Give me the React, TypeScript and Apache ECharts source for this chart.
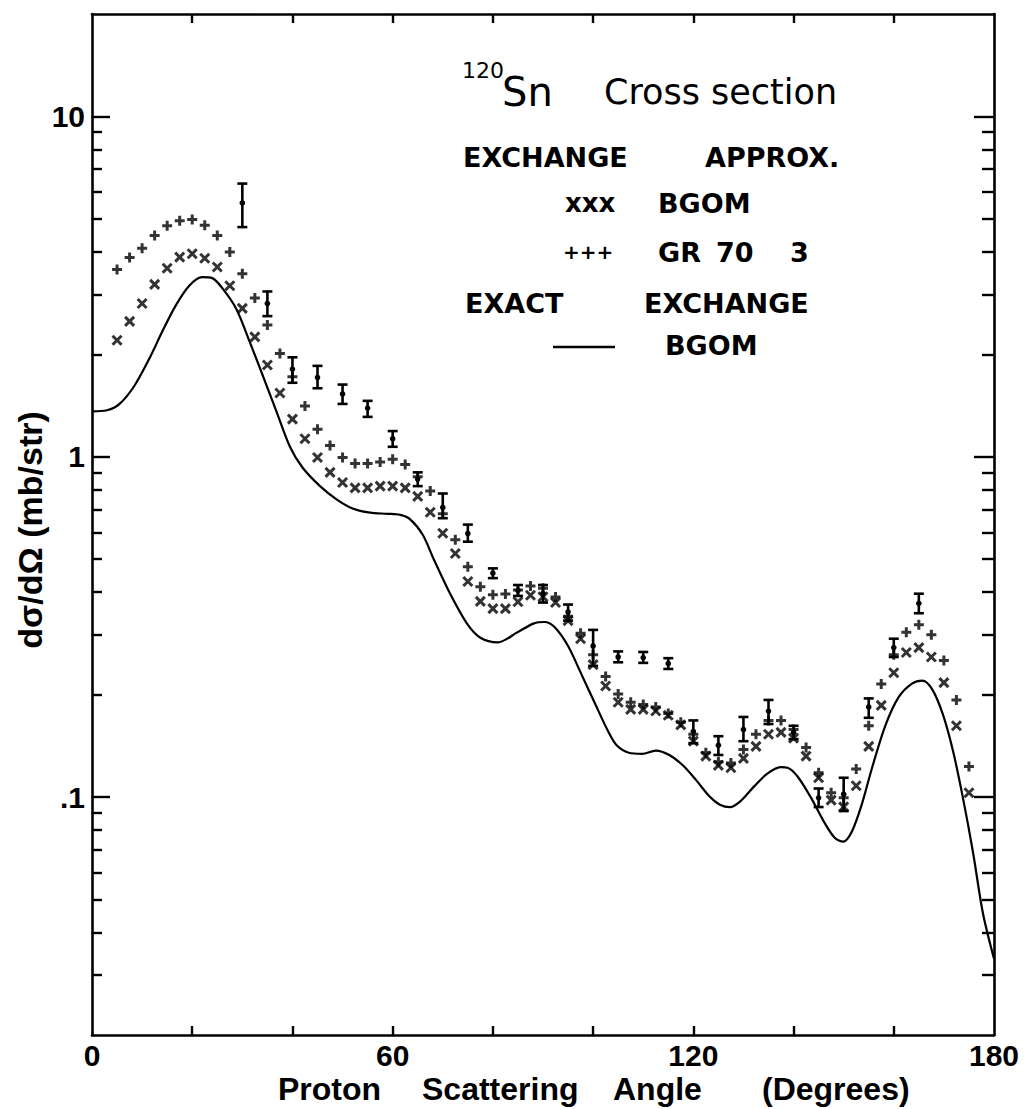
import React, { useEffect, useRef } from "react";
import * as echarts from "echarts";

// Theory points every 2.5 degrees (BGOM approx "x" and GR 70 3 "+")
const approxAngles = [
  5, 7.5, 10, 12.5, 15, 17.5, 20, 22.5, 25, 27.5,
  30, 32.5, 35, 37.5, 40, 42.5, 45, 47.5, 50, 52.5,
  55, 57.5, 60, 62.5, 65, 67.5, 70, 72.5, 75, 77.5,
  80, 82.5, 85, 87.5, 90, 92.5, 95, 97.5, 100, 102.5,
  105, 107.5, 110, 112.5, 115, 117.5, 120, 122.5, 125, 127.5,
  130, 132.5, 135, 137.5, 140, 142.5, 145, 147.5, 150, 152.5,
  155, 157.5, 160, 162.5, 165, 167.5, 170, 172.5, 175,
];
const bgomApprox = [
  2.2, 2.5, 2.82, 3.21, 3.58, 3.86, 3.95, 3.83, 3.61, 3.18,
  2.73, 2.25, 1.86, 1.54, 1.29, 1.13, 0.995, 0.9, 0.84, 0.81,
  0.81, 0.82, 0.82, 0.81, 0.765, 0.687, 0.596, 0.52, 0.43, 0.376,
  0.358, 0.358, 0.375, 0.392, 0.388, 0.373, 0.33, 0.292, 0.245, 0.212,
  0.19, 0.181, 0.181, 0.179, 0.174, 0.163, 0.146, 0.132, 0.124, 0.122,
  0.13, 0.141, 0.153, 0.155, 0.149, 0.132, 0.114, 0.098, 0.0936, 0.108,
  0.141, 0.186, 0.232, 0.266, 0.275, 0.258, 0.217, 0.162, 0.103,
];
const gr703 = [
  3.55, 3.85, 4.1, 4.47, 4.77, 4.94, 4.98, 4.79, 4.47, 4.0,
  3.45, 2.93, 2.44, 2.01, 1.72, 1.41, 1.205, 1.08, 0.995, 0.955,
  0.955, 0.966, 0.984, 0.949, 0.873, 0.794, 0.68, 0.57, 0.475, 0.415,
  0.393, 0.395, 0.406, 0.417, 0.411, 0.387, 0.34, 0.303, 0.262, 0.226,
  0.201, 0.19, 0.187, 0.184, 0.176, 0.166, 0.153, 0.135, 0.127, 0.126,
  0.138, 0.153, 0.168, 0.168, 0.158, 0.14, 0.118, 0.103, 0.0995, 0.121,
  0.162, 0.215, 0.262, 0.305, 0.321, 0.3, 0.252, 0.193, 0.123,
];

// Experimental data with error bars
const expAngles = [
  30, 35, 40, 45, 50, 55, 60, 65, 70, 75, 80, 85, 90, 95,
  100, 105, 110, 115, 120, 125, 130, 135, 140, 145, 150, 155, 160, 165,
];
const expValues = [
  5.57, 2.82, 1.81, 1.71, 1.53, 1.39, 1.13, 0.86, 0.71, 0.595, 0.455, 0.405, 0.396, 0.35,
  0.278, 0.258, 0.257, 0.247, 0.156, 0.142, 0.158, 0.179, 0.155, 0.0995, 0.102, 0.184, 0.275, 0.371,
];
const expLow = [
  4.73, 2.59, 1.65, 1.59, 1.43, 1.31, 1.07, 0.82, 0.66, 0.563, 0.44, 0.39, 0.373, 0.33,
  0.243, 0.249, 0.248, 0.238, 0.144, 0.133, 0.146, 0.164, 0.148, 0.0935, 0.091, 0.171, 0.258, 0.347,
];
const expHigh = [
  6.35, 3.06, 1.96, 1.85, 1.63, 1.46, 1.19, 0.9, 0.78, 0.632, 0.47, 0.42, 0.42, 0.368,
  0.31, 0.268, 0.267, 0.256, 0.168, 0.151, 0.172, 0.193, 0.162, 0.106, 0.114, 0.195, 0.292, 0.396,
];

// Exact exchange BGOM (solid curve)
const curveAngles = [
  0, 3, 5.5, 8.5, 11.5, 14, 16.7, 19.4, 22, 24,
  26, 28.8, 31.4, 34.1, 36.8, 39.5, 42, 45.5, 48.8, 52,
  55.5, 59, 61.5, 63.5, 66, 68.2, 71.5, 74.8, 77.5, 81,
  84.9, 88.2, 90.3, 92.3, 95, 97.7, 100.4, 103.1, 104.7, 107.1,
  109.8, 112.5, 115.2, 117.9, 120.6, 123.2, 125.3, 127.3, 129.3, 132,
  134.7, 137.4, 138.8, 140.8, 143.5, 146.2, 148.2, 149.9, 151.6, 153.6,
  155.6, 158.3, 161, 163.7, 165.7, 167.7, 169.8, 171.8, 173.8, 175.8,
  177.8, 180,
];
const curveValues = [
  1.36, 1.37, 1.43, 1.62, 1.95, 2.33, 2.78, 3.18, 3.37, 3.35,
  3.13, 2.72, 2.19, 1.73, 1.36, 1.07, 0.93, 0.82, 0.75, 0.705,
  0.685, 0.68, 0.675, 0.655, 0.59, 0.5, 0.395, 0.324, 0.294, 0.285,
  0.305, 0.324, 0.327, 0.316, 0.278, 0.229, 0.188, 0.155, 0.142, 0.135,
  0.134, 0.137, 0.133, 0.124, 0.112, 0.1006, 0.095, 0.0934, 0.097, 0.107,
  0.117, 0.1225, 0.122, 0.115, 0.0995, 0.084, 0.076, 0.074, 0.079, 0.095,
  0.121, 0.162, 0.197, 0.216, 0.22, 0.207, 0.175, 0.137, 0.0995, 0.069,
  0.0455, 0.0335,
];

const yMajorTicks = [0.1, 1, 10];
const yMinorTicks = [
  0.03, 0.04, 0.05, 0.06, 0.07, 0.08, 0.09,
  0.2, 0.3, 0.4, 0.5, 0.6, 0.7, 0.8, 0.9,
  2, 3, 4, 5, 6, 7, 8, 9,
];
const xTickValues = [20, 40, 60, 80, 100, 120, 140, 160];
const xLabelValues = [0, 60, 120, 180];

const INK = "#000";
const BOLD = "'Liberation Sans', Arial, sans-serif";
const LEGEND_FONT = "'DejaVu Sans', Verdana, sans-serif";

export default function App() {
  const ref = useRef<HTMLDivElement>(null);

  useEffect(() => {
    const chart = echarts.init(ref.current as HTMLDivElement, null, { renderer: "svg" });

    const yLabelFmt = (v: number) => {
      const l = Math.log10(v);
      const r = Math.round(l);
      if (Math.abs(l - r) > 1e-6) return "";
      if (r === -1) return ".1";
      return String(Math.round(Math.pow(10, r)));
    };

    const axisLine = { show: true, lineStyle: { color: INK, width: 2.6 } };
    const tickLine = { color: INK, width: 2.4 };

    const yBase = {
      type: "log" as const,
      logBase: 10,
      min: 0.02,
      max: 20,
      splitLine: { show: false },
      minorTick: { show: false },
    };
    const xBase = {
      type: "value" as const,
      min: 0,
      max: 180,
      splitLine: { show: false },
    };

    const txt = (
      text: string,
      x: number,
      y: number,
      font: string,
      align = "left",
      rotation = 0
    ) => ({
      type: "text",
      x,
      y,
      rotation,
      silent: true,
      style: {
        text,
        font,
        fill: INK,
        align,
        verticalAlign: "middle",
      },
    });

    const option: any = {
      animation: false,
      backgroundColor: "#fff",
      grid: { left: 92, right: 38, top: 14, bottom: 74, containLabel: false },
      xAxis: [
        {
          ...xBase,
          position: "bottom",
          axisLine: { ...axisLine, onZero: false },
          axisTick: { show: true, inside: true, length: 9, lineStyle: tickLine, customValues: xTickValues },
          axisLabel: {
            show: true,
            customValues: xLabelValues,
            margin: 8,
            color: INK,
            fontFamily: BOLD,
            fontWeight: "bold",
            fontSize: 30,
            lineHeight: 24,
            formatter: (v: number) => String(v),
          },
        },
        {
          ...xBase,
          position: "top",
          axisLine: { ...axisLine, onZero: false },
          axisTick: { show: true, inside: true, length: 9, lineStyle: tickLine, customValues: xTickValues },
          axisLabel: { show: false },
        },
      ],
      yAxis: [
        {
          ...yBase,
          position: "left",
          axisLine: { ...axisLine, onZero: false },
          axisTick: { show: true, inside: true, length: 18, lineStyle: tickLine, customValues: yMajorTicks },
          axisLabel: {
            show: true,
            customValues: yMajorTicks,
            margin: 7,
            color: INK,
            fontFamily: BOLD,
            fontWeight: "bold",
            fontSize: 30,
            formatter: yLabelFmt,
          },
        },
        {
          ...yBase,
          position: "left",
          axisLine: { show: false, onZero: false },
          axisTick: { show: true, inside: true, length: 10, lineStyle: tickLine, customValues: yMinorTicks },
          axisLabel: { show: false },
        },
        {
          ...yBase,
          position: "right",
          axisLine: { ...axisLine, onZero: false },
          axisTick: { show: true, inside: true, length: 20, lineStyle: tickLine, customValues: yMajorTicks },
          axisLabel: { show: false },
        },
        {
          ...yBase,
          position: "right",
          axisLine: { show: false, onZero: false },
          axisTick: { show: true, inside: true, length: 12, lineStyle: tickLine, customValues: yMinorTicks },
          axisLabel: { show: false },
        },
      ],
      series: [
        {
          name: "Exact exchange BGOM",
          type: "line",
          xAxisIndex: 0,
          yAxisIndex: 0,
          data: curveAngles.map((a, i) => [a, curveValues[i]]),
          showSymbol: false,
          symbol: "none",
          smooth: 0.3,
          lineStyle: { color: INK, width: 2.2 },
          silent: true,
          z: 2,
        },
        {
          name: "BGOM approx",
          type: "scatter",
          xAxisIndex: 0,
          yAxisIndex: 0,
          data: approxAngles.map((a, i) => [a, bgomApprox[i]]),
          symbol: "path://M0 0L10 10M10 0L0 10",
          symbolSize: 9,
          itemStyle: { color: "rgba(0,0,0,0)", borderColor: INK, borderWidth: 3 },
          silent: true,
          z: 3,
        },
        {
          name: "GR 70 3",
          type: "scatter",
          xAxisIndex: 0,
          yAxisIndex: 0,
          data: approxAngles.map((a, i) => [a, gr703[i]]),
          symbol: "path://M5 0L5 10M0 5L10 5",
          symbolSize: 10,
          itemStyle: { color: "rgba(0,0,0,0)", borderColor: INK, borderWidth: 3 },
          silent: true,
          z: 3,
        },
        {
          name: "Experiment",
          type: "custom",
          xAxisIndex: 0,
          yAxisIndex: 0,
          data: expAngles.map((a, i) => [a, expValues[i], expLow[i], expHigh[i]]),
          encode: { x: 0, y: [1, 2, 3] },
          silent: true,
          z: 4,
          renderItem: (params: any, api: any) => {
            const x = api.value(0);
            const c = api.coord([x, api.value(1)]);
            const lo = api.coord([x, api.value(2)]);
            const hi = api.coord([x, api.value(3)]);
            const w = 5;
            const style = { stroke: INK, lineWidth: 2.6, fill: "none" };
            return {
              type: "group",
              children: [
                { type: "line", shape: { x1: lo[0], y1: lo[1], x2: hi[0], y2: hi[1] }, style },
                { type: "line", shape: { x1: lo[0] - w, y1: lo[1], x2: lo[0] + w, y2: lo[1] }, style },
                { type: "line", shape: { x1: hi[0] - w, y1: hi[1], x2: hi[0] + w, y2: hi[1] }, style },
                { type: "circle", shape: { cx: c[0], cy: c[1], r: 2.8 }, style: { fill: INK } },
              ],
            };
          },
        },
      ],
      graphic: [
        txt("120", 462, 70, `22px ${LEGEND_FONT}`),
        txt("Sn", 502, 92, `40px ${LEGEND_FONT}`),
        txt("Cross section", 604, 92, `35px ${LEGEND_FONT}`),
        txt("EXCHANGE", 463, 157, `bold 27px ${LEGEND_FONT}`),
        txt("APPROX.", 705, 157, `bold 27px ${LEGEND_FONT}`),
        txt("xxx", 565, 203, `bold 26px ${LEGEND_FONT}`),
        txt("BGOM", 658, 203, `bold 27px ${LEGEND_FONT}`),
        txt("+++", 563, 252, `bold 20px ${LEGEND_FONT}`),
        txt("GR", 658, 252, `bold 27px ${LEGEND_FONT}`),
        txt("70", 716, 252, `bold 27px ${LEGEND_FONT}`),
        txt("3", 790, 252, `bold 27px ${LEGEND_FONT}`),
        txt("EXACT", 465, 303, `bold 27px ${LEGEND_FONT}`),
        txt("EXCHANGE", 644, 303, `bold 27px ${LEGEND_FONT}`),
        {
          type: "line",
          silent: true,
          shape: { x1: 553, y1: 347, x2: 615, y2: 347 },
          style: { stroke: INK, lineWidth: 2.4 },
        },
        txt("BGOM", 665, 345, `bold 27px ${LEGEND_FONT}`),
        // axis titles
        txt("Proton", 278, 1089, `bold 32px ${BOLD}`),
        txt("Scattering", 422, 1089, `bold 32px ${BOLD}`),
        txt("Angle", 613, 1089, `bold 32px ${BOLD}`),
        txt("(Degrees)", 762, 1089, `bold 32px ${BOLD}`),
        txt("dσ/dΩ (mb/str)", 30, 530, `bold 34px ${BOLD}`, "center", Math.PI / 2),
      ],
    };

    chart.setOption(option);
    return () => chart.dispose();
  }, []);

  return (
    <div
      ref={ref}
      style={{ position: "absolute", left: 0, top: 0, width: 1032, height: 1109, background: "#fff" }}
    />
  );
}
